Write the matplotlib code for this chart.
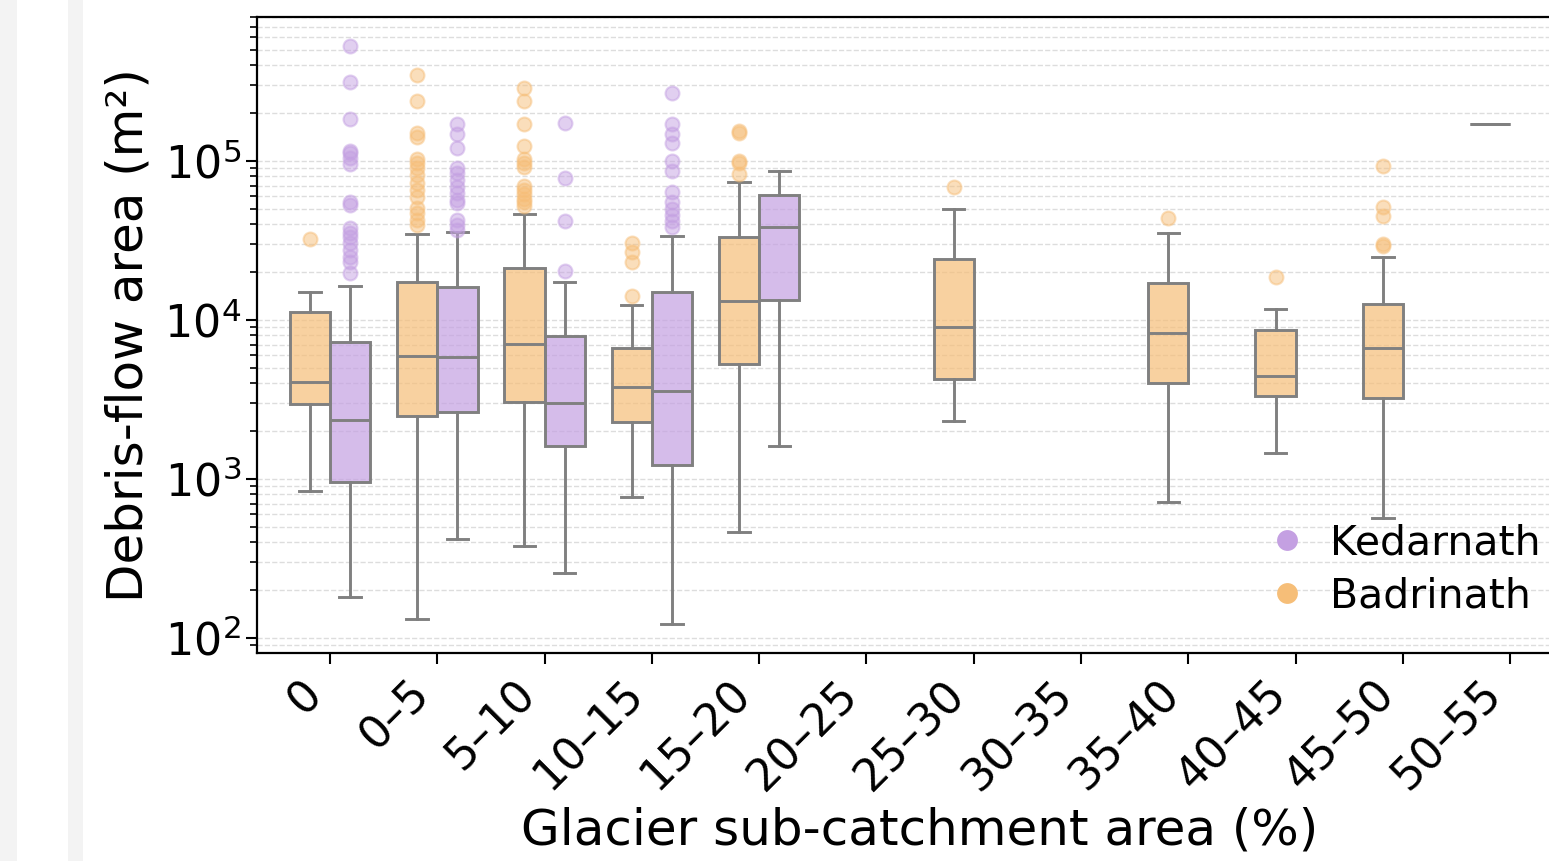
import matplotlib
matplotlib.use("Agg")
import matplotlib.pyplot as plt
from matplotlib.colors import to_rgba
from matplotlib.lines import Line2D
from matplotlib.patches import Rectangle

categories = ["0", "0–5", "5–10", "10–15", "15–20", "20–25", "25–30",
              "30–35", "35–40", "40–45", "45–50", "50–55"]

# Badrinath box statistics per category (None = no data)
bad_whislo = [841, 132, 381, 767, 467, None, 2318, None, 720, 1452, 566, 170300]
bad_q1 = [2950, 2480, 3030, 2290, 5320, None, 4235, None, 4000, 3325, 3220, 170300]
bad_med = [4055, 5970, 7060, 3780, 13130, None, 9080, None, 8240, 4470, 6640, 170300]
bad_q3 = [11170, 17400, 21300, 6700, 33200, None, 24200, None, 17200, 8650, 12630, 170300]
bad_whishi = [14900, 34600, 46400, 12480, 73300, None, 49900, None, 35400, 11670, 24800, 170300]
bad_fliers = [
    [32200],
    [347000, 240000, 149000, 142000, 102600, 96800, 90000, 81700, 73100, 65800,
     59700, 50500, 46900, 42600, 39600],
    [286000, 240000, 171000, 124800, 102600, 96800, 92300, 70000, 66000, 62000,
     58000, 55000, 52000],
    [30300, 26900, 23100, 14200],
    [155000, 150600, 100000, 97000, 82800],
    [],
    [68900],
    [],
    [43600],
    [18580],
    [92700, 51200, 45100, 30100, 29300],
    [],
]

# Kedarnath box statistics per category
ked_whislo = [182, 422, 258, 122, 1617]
ked_q1 = [953, 2650, 1614, 1233, 13450]
ked_med = [2350, 5880, 3010, 3600, 38200]
ked_q3 = [7310, 16200, 7960, 15100, 61100]
ked_whishi = [16370, 36000, 17260, 33800, 86100]
ked_fliers = [
    [531000, 314000, 185000, 115600, 111700, 104000, 95300, 55200, 52800, 37800,
     35100, 33100, 30400, 27500, 25000, 23300, 19900],
    [171000, 148000, 120000, 90000, 83700, 76000, 69000, 62600, 56900, 54200,
     42600, 39500, 37000],
    [173000, 77800, 42000, 20300],
    [266000, 170000, 148000, 129400, 99500, 87100, 64100, 55100, 50200, 45900,
     41900, 38200],
    [],
]

col_bad = "#F6BE78"
col_ked = "#C4A0E2"

W, H = 1549, 861
fig = plt.figure(figsize=(W / 100, H / 100), dpi=100)
fig.add_artist(Rectangle((0, 0), 17 / W, 1, transform=fig.transFigure,
                         facecolor="#F3F3F3", edgecolor="none", zorder=-5))
fig.add_artist(Rectangle((68 / W, 0), 15 / W, 1, transform=fig.transFigure,
                         facecolor="#F3F3F3", edgecolor="none", zorder=-5))

xmin, xmax = -0.68, 11.68
unit = 107.3
ax = fig.add_axes([257 / W, 1 - 653 / H, (xmax - xmin) * unit / W, 636 / H])


def make_stats(lo, q1, med, q3, hi, fl):
    out = []
    for i in range(len(med)):
        if med[i] is None:
            out.append(None)
            continue
        out.append(dict(whislo=lo[i], q1=q1[i], med=med[i], q3=q3[i],
                        whishi=hi[i], fliers=fl[i]))
    return out


width = 0.375
line_kw = dict(color="0.5", linewidth=2.1)
for stats, color, off in [
    (make_stats(bad_whislo, bad_q1, bad_med, bad_q3, bad_whishi, bad_fliers), col_bad, -width / 2),
    (make_stats(ked_whislo, ked_q1, ked_med, ked_q3, ked_whishi, ked_fliers), col_ked, width / 2),
]:
    pos = [i + off for i, s in enumerate(stats) if s is not None]
    st = [s for s in stats if s is not None]
    ax.bxp(st, positions=pos, widths=width, patch_artist=True, capwidths=0.2,
           boxprops=dict(facecolor=to_rgba(color, 0.7), edgecolor="0.5", linewidth=2.1),
           whiskerprops=line_kw, capprops=line_kw, medianprops=line_kw,
           flierprops=dict(marker="o", markerfacecolor=color, markeredgecolor=color,
                           markersize=10, alpha=0.5, markeredgewidth=1.5),
           manage_ticks=False, zorder=3)

ax.set_yscale("log")
ax.set_ylim(80.5, 8.05e5)
ax.set_xlim(xmin, xmax)
ax.set_xticks(range(len(categories)))
ax.set_xticklabels(categories, rotation=45, ha="right")
ax.tick_params(axis="both", which="major", labelsize=32, length=8, width=1.5)
ax.tick_params(axis="x", which="major", pad=6)
ax.tick_params(axis="y", which="minor", length=5, width=1.2)
ax.grid(True, axis="y", which="both", linestyle="--", color="#DDDDDD", linewidth=1.0)
ax.set_axisbelow(True)
for sp in ax.spines.values():
    sp.set_linewidth(1.6)

ax.set_xlabel("Glacier sub-catchment area (%)", fontsize=36, labelpad=6)
ax.set_ylabel("Debris-flow area (m²)", fontsize=36, labelpad=8)

handles = [
    Line2D([], [], marker="o", linestyle="none", markersize=15,
           markerfacecolor=col_ked, markeredgecolor="none"),
    Line2D([], [], marker="o", linestyle="none", markersize=15,
           markerfacecolor=col_bad, markeredgecolor="none"),
]
fig.legend(handles, ["Kedarnath", "Badrinath"], loc="center left",
           bbox_to_anchor=(0.794, 0.338), frameon=False, fontsize=29.5,
           handlelength=1.0, handletextpad=0.55, labelspacing=0.3)

fig.savefig("out.png", dpi=100)
